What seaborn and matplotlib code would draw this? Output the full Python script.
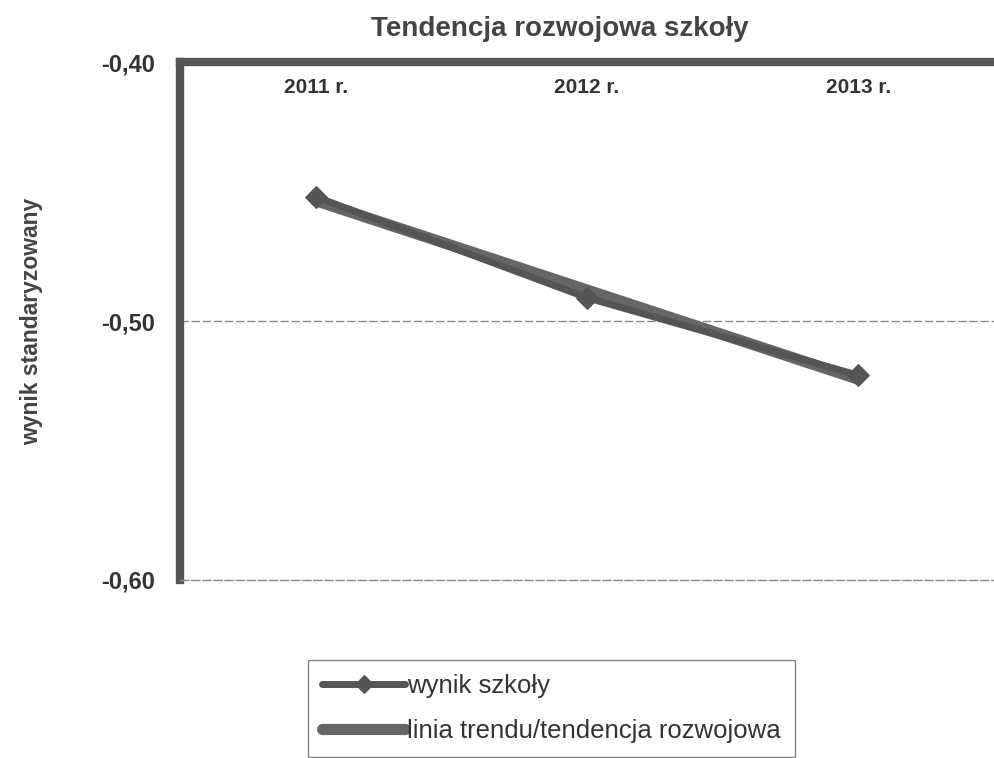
import numpy as np
import pandas as pd
import matplotlib
matplotlib.use('Agg')
import matplotlib.pyplot as plt
import seaborn as sns

# data
years = ['2011 r.', '2012 r.', '2013 r.']
wynik = [-0.452, -0.491, -0.521]
yticks = [-0.40, -0.50, -0.60]
ytick_labels = ['-0,40', '-0,50', '-0,60']

df = pd.DataFrame({'x': np.arange(len(years)), 'wynik': wynik})

sns.set_theme(style='white')
plt.rcParams['font.family'] = ['Liberation Sans', 'DejaVu Sans']

fig = plt.figure(figsize=(9.94, 7.58), dpi=100)
ax = fig.add_axes([0.181, 0.235, 0.819, 0.683])

gray = '#555555'

# trend line (linear fit)
sns.regplot(x='x', y='wynik', data=df, ax=ax, scatter=False, ci=None,
            truncate=True, color='#666666', line_kws={'lw': 8, 'zorder': 2},
            label='linia trendu/tendencja rozwojowa')

# series
sns.lineplot(x='x', y='wynik', data=df, ax=ax, color=gray, lw=5,
             marker='D', markersize=11, markeredgecolor=gray, zorder=3,
             label='wynik szkoły')
if ax.get_legend() is not None:
    ax.get_legend().remove()

ax.set_xlim(-0.5, 2.5)
ax.set_ylim(-0.60, -0.40)
ax.set_yticks(yticks)
ax.set_yticklabels(ytick_labels, fontsize=17, fontweight='bold', color='#333333')
ax.axhline(-0.50, color='#888888', lw=1, ls=(0, (6, 2)), zorder=1)

ax.xaxis.tick_top()
ax.set_xticks(df['x'])
ax.set_xticklabels(years, fontsize=15, fontweight='bold', color='#333333')
ax.tick_params(axis='x', length=0, pad=-25)
ax.tick_params(axis='y', length=0, pad=18)
ax.set_xlabel('')
ax.set_ylabel('wynik standaryzowany', fontsize=16.5, fontweight='bold',
              color='#444444', labelpad=42)

for side in ['top', 'left']:
    ax.spines[side].set_color(gray)
    ax.spines[side].set_linewidth(6)
ax.spines['right'].set_visible(False)
ax.spines['bottom'].set_color('#888888')
ax.spines['bottom'].set_linewidth(1)
ax.spines['bottom'].set_linestyle((0, (6, 2)))

fig.text(0.563, 0.962, 'Tendencja rozwojowa szkoły', ha='center', va='center',
         fontsize=20, fontweight='bold', color='#444444')

handles, labels = ax.get_legend_handles_labels()
order = [labels.index('wynik szkoły'), labels.index('linia trendu/tendencja rozwojowa')]
leg = fig.legend([handles[i] for i in order], [labels[i] for i in order],
                 loc='center', bbox_to_anchor=(0.555, 0.0655), fontsize=18.5,
                 frameon=True, fancybox=False, edgecolor='#666666',
                 handlelength=3.2, handletextpad=0.1, borderpad=0.55,
                 labelspacing=0.8, markerscale=0.8, borderaxespad=0)
leg.get_frame().set_linewidth(1)
for t in leg.get_texts():
    t.set_color('#333333')

fig.savefig('out.png', dpi=100)
